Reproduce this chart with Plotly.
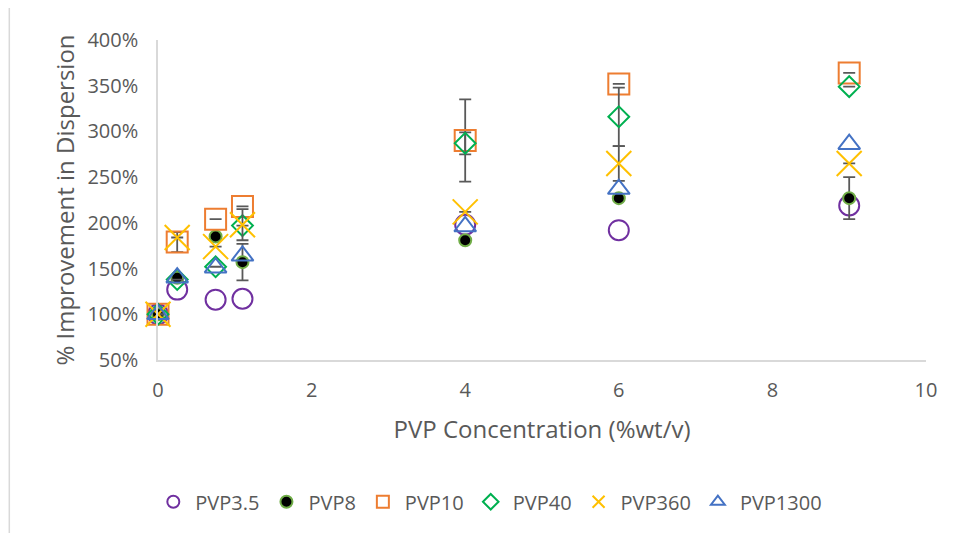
import plotly.graph_objects as go

# Data
conc = [0, 0.25, 0.75, 1.1, 4, 6, 9]
pvp3_5 = [100, 127, 116, 117, 198, 192, 219]
pvp8 = [100, 140, 185, 157, 181, 227, 227]
pvp10 = [100, 179, 204, 218, 290, 352, 364]
pvp40 = [100, 138, 152, 197, 287, 316, 349]
pvp360 = [100, 184, 174, 198, 212, 265, 265]
pvp1300 = [100, 140, 151, 164, 196, 237, 286]

err_pvp8 = [0, 0, 0, 20, 0, 0, 23]
err_pvp10 = [0, 11, 0, 0, 45, 0, 0]
err_pvp40 = [0, 0, 0, 0, 12, 32, 0]
err_pvp360 = [0, 0, 0, 17, 0, 19, 0]

y_ticks = [50, 100, 150, 200, 250, 300, 350, 400]
y_ticktext = [f"{v}%" for v in y_ticks]
x_ticks = [0, 2, 4, 6, 8, 10]

FONT = "Open Sans"
GREY = "#595959"

def errb(arr):
    return dict(type="data", array=arr, visible=True, color=GREY,
                thickness=1.8, width=6)

fig = go.Figure()
fig.add_trace(go.Scatter(
    x=conc, y=pvp3_5, name="PVP3.5", mode="markers", cliponaxis=False,
    marker=dict(symbol="circle-open", size=20, color="#7030A0",
                line=dict(width=2, color="#7030A0"))))
fig.add_trace(go.Scatter(
    x=conc, y=pvp8, name="PVP8", mode="markers", cliponaxis=False,
    error_y=errb(err_pvp8),
    marker=dict(symbol="circle", size=12, color="black",
                line=dict(width=2, color="#70AD47"))))
fig.add_trace(go.Scatter(
    x=conc, y=pvp10, name="PVP10", mode="markers", cliponaxis=False,
    error_y=errb(err_pvp10),
    marker=dict(symbol="square-open", size=21, color="#ED7D31",
                line=dict(width=2, color="#ED7D31"))))
fig.add_trace(go.Scatter(
    x=conc, y=pvp40, name="PVP40", mode="markers", cliponaxis=False,
    error_y=errb(err_pvp40),
    marker=dict(symbol="diamond-open", size=16, color="#00B050",
                line=dict(width=2, color="#00B050"))))
fig.add_trace(go.Scatter(
    x=conc, y=pvp360, name="PVP360", mode="markers", cliponaxis=False,
    error_y=errb(err_pvp360),
    marker=dict(symbol="x-thin-open", size=25, color="#FFC000",
                line=dict(width=2, color="#FFC000"))))
fig.add_trace(go.Scatter(
    x=conc, y=pvp1300, name="PVP1300", mode="markers", cliponaxis=False,
    marker=dict(symbol="triangle-up-open", size=19, color="#4472C4",
                line=dict(width=2, color="#4472C4"))))

# page body has an 8px margin, so the figure is 8px smaller and shifted
fig.update_layout(
    width=946, height=525,
    margin=dict(l=149.5, r=28, t=32, b=173),
    paper_bgcolor="white", plot_bgcolor="white",
    font=dict(family=FONT, color=GREY, size=20),
    showlegend=True,
    legend=dict(orientation="h", x=-0.0087, xanchor="left", y=-0.382,
                yanchor="top", font=dict(size=20, color=GREY, family=FONT),
                itemwidth=34, tracegroupgap=0, itemsizing="constant"),
    xaxis=dict(range=[0, 10], tickvals=x_ticks, showgrid=False, zeroline=False,
               showline=True, linecolor="#D9D9D9", linewidth=1.5,
               ticks="", ticklabelstandoff=11, automargin=False,
               tickfont=dict(size=20, color=GREY, family=FONT),
               title=dict(text="PVP Concentration (%wt/v)", standoff=19,
                          font=dict(size=24, color=GREY, family=FONT))),
    yaxis=dict(range=[50, 400], tickvals=y_ticks, ticktext=y_ticktext,
               showgrid=False, zeroline=False,
               showline=True, linecolor="#D9D9D9", linewidth=1.5,
               ticks="", ticklabelstandoff=14, automargin=False,
               tickfont=dict(size=20, color=GREY, family=FONT),
               title=dict(text="% Improvement in Dispersion", standoff=6,
                          font=dict(size=24, color=GREY, family=FONT))),
)

# chart-area border on the left
fig.add_shape(type="line", xref="paper", yref="paper",
              x0=-0.1936, x1=-0.1936, y0=-0.6, y1=1.2,
              line=dict(color="#D9D9D9", width=1.5))

fig.write_html("out.html")
